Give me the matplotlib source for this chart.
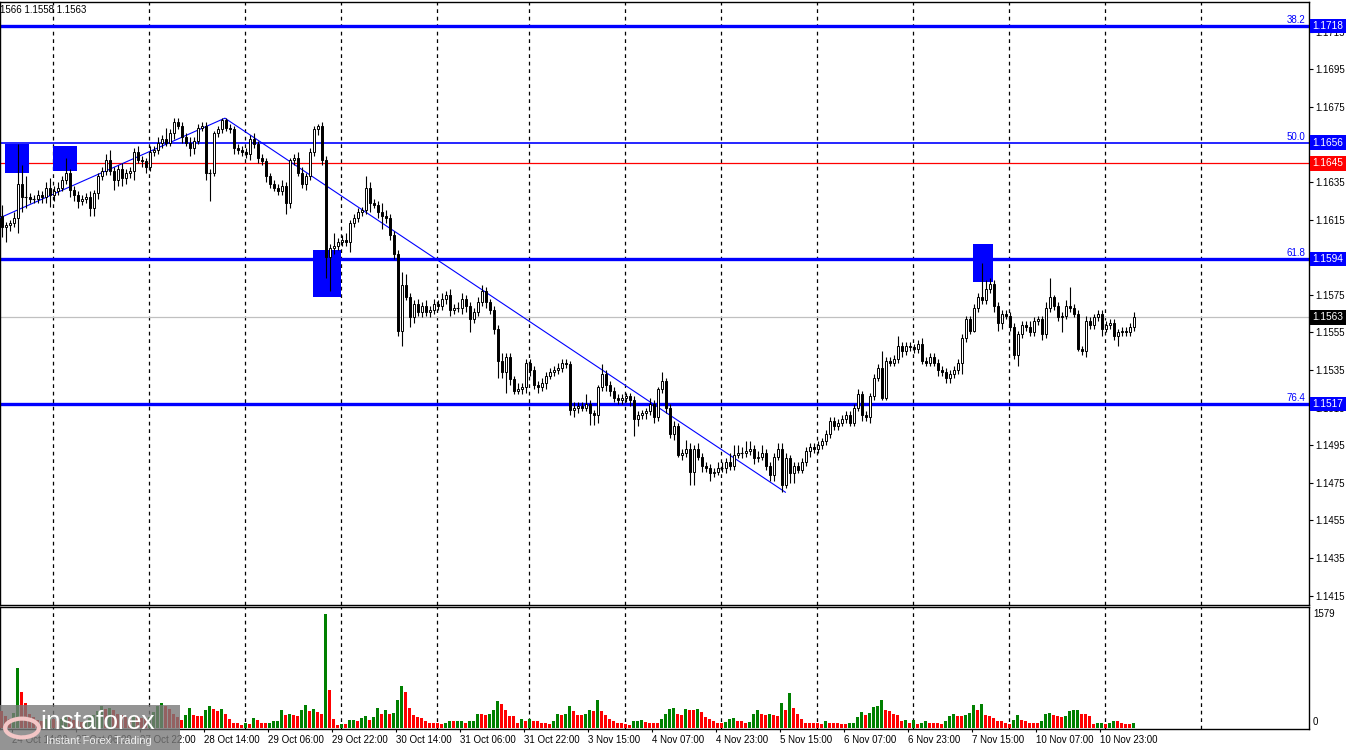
import matplotlib
matplotlib.use("Agg")
import matplotlib.pyplot as plt
from matplotlib.patches import Rectangle, Circle
from matplotlib.transforms import blended_transform_factory
import numpy as np

plt.rcParams["font.family"] = ["Liberation Sans", "DejaVu Sans"]

# ---- EURUSD H1 candles ----
first_open = 1.1617
closes = [
    1.1611, 1.1612, 1.1613, 1.1616, 1.1634, 1.1627, 1.1627, 1.1626, 1.1626, 1.1628, 1.1627, 1.1632,
    1.1628, 1.1630, 1.1632, 1.1636, 1.1640, 1.1631, 1.1628, 1.1625, 1.1626, 1.1627, 1.1621, 1.1629,
    1.1638, 1.1641, 1.1647, 1.1641, 1.1636, 1.1642, 1.1637, 1.1640, 1.1641, 1.1651, 1.1647, 1.1646,
    1.1643, 1.1651, 1.1652, 1.1656, 1.1658, 1.1656, 1.1661, 1.1667, 1.1665, 1.1659, 1.1656, 1.1653,
    1.1657, 1.1664, 1.1665, 1.1640, 1.1640, 1.1661, 1.1663, 1.1668, 1.1664, 1.1663, 1.1653, 1.1652,
    1.1651, 1.1650, 1.1658, 1.1655, 1.1648, 1.1646, 1.1638, 1.1634, 1.1632, 1.1630, 1.1633, 1.1624,
    1.1647, 1.1648, 1.1640, 1.1634, 1.1638, 1.1651, 1.1663, 1.1665, 1.1647, 1.1595, 1.1600, 1.1601,
    1.1603, 1.1604, 1.1603, 1.1613, 1.1616, 1.1619, 1.1620, 1.1632, 1.1624, 1.1623, 1.1619, 1.1617,
    1.1616, 1.1607, 1.1597, 1.1556, 1.1580, 1.1574, 1.1563, 1.1570, 1.1566, 1.1569, 1.1566, 1.1567,
    1.1570, 1.1569, 1.1573, 1.1575, 1.1567, 1.1568, 1.1568, 1.1573, 1.1569, 1.1562, 1.1566, 1.1571,
    1.1577, 1.1571, 1.1567, 1.1557, 1.1540, 1.1534, 1.1542, 1.1530, 1.1524, 1.1525, 1.1526, 1.1539,
    1.1535, 1.1527, 1.1526, 1.1528, 1.1532, 1.1534, 1.1535, 1.1536, 1.1539, 1.1538, 1.1514, 1.1515,
    1.1516, 1.1515, 1.1517, 1.1512, 1.1511, 1.1526, 1.1533, 1.1527, 1.1524, 1.1520, 1.1519, 1.1520,
    1.1521, 1.1519, 1.1509, 1.1511, 1.1512, 1.1513, 1.1517, 1.1510, 1.1525, 1.1529, 1.1515, 1.1501,
    1.1505, 1.1490, 1.1491, 1.1493, 1.1481, 1.1493, 1.1489, 1.1484, 1.1483, 1.1480, 1.1481, 1.1483,
    1.1483, 1.1486, 1.1484, 1.1490, 1.1491, 1.1491, 1.1492, 1.1493, 1.1488, 1.1489, 1.1491, 1.1484,
    1.1479, 1.1489, 1.1493, 1.1474, 1.1488, 1.1480, 1.1484, 1.1482, 1.1486, 1.1492, 1.1494, 1.1493,
    1.1495, 1.1497, 1.1501, 1.1508, 1.1505, 1.1507, 1.1509, 1.1511, 1.1507, 1.1515, 1.1522, 1.1511,
    1.1510, 1.1521, 1.1531, 1.1536, 1.1520, 1.1540, 1.1539, 1.1541, 1.1548, 1.1545, 1.1548, 1.1547,
    1.1546, 1.1549, 1.1540, 1.1539, 1.1542, 1.1539, 1.1535, 1.1534, 1.1531, 1.1533, 1.1535, 1.1539,
    1.1552, 1.1562, 1.1556, 1.1568, 1.1574, 1.1572, 1.1578, 1.1581, 1.1569, 1.1560, 1.1565, 1.1564,
    1.1558, 1.1543, 1.1554, 1.1559, 1.1558, 1.1555, 1.1561, 1.1562, 1.1554, 1.1568, 1.1574, 1.1569,
    1.1563, 1.1564, 1.1569, 1.1568, 1.1565, 1.1546, 1.1545, 1.1561, 1.1559, 1.1563, 1.1565, 1.1557,
    1.1559, 1.1560, 1.1553, 1.1555, 1.1556, 1.1555, 1.1558, 1.1563,
]
# wick lengths beyond the body, in pips
wick_up = [
    6, 2, 2, 3, 21, 10, 11, 2, 2, 3, 2, 3,
    5, 3, 3, 2, 8, 2, 2, 2, 2, 2, 3, 2,
    2, 2, 3, 5, 2, 2, 3, 2, 2, 2, 3, 2,
    2, 3, 2, 3, 2, 6, 2, 2, 2, 2, 2, 3,
    2, 2, 2, 2, 2, 1, 2, 1, 1, 2, 2, 2,
    2, 2, 2, 3, 2, 2, 2, 2, 2, 2, 3, 2,
    1, 2, 3, 3, 2, 2, 2, 1, 2, 2, 2, 7,
    2, 3, 4, 2, 2, 2, 2, 6, 3, 2, 2, 5,
    3, 2, 2, 2, 7, 6, 2, 2, 3, 2, 3, 2,
    3, 2, 3, 2, 3, 2, 3, 3, 2, 2, 2, 3,
    3, 2, 2, 2, 2, 4, 2, 2, 2, 3, 2, 2,
    2, 2, 2, 3, 2, 2, 2, 3, 2, 2, 2, 3,
    2, 2, 5, 2, 2, 1, 5, 2, 2, 2, 2, 2,
    2, 2, 2, 2, 2, 2, 3, 2, 1, 5, 2, 2,
    3, 2, 2, 5, 3, 2, 3, 2, 2, 2, 2, 3,
    3, 2, 5, 5, 4, 3, 5, 4, 2, 3, 4, 2,
    2, 2, 3, 3, 3, 2, 2, 2, 2, 2, 2, 2,
    2, 2, 2, 2, 2, 2, 2, 2, 2, 2, 3, 2,
    2, 2, 2, 2, 9, 2, 2, 2, 5, 2, 2, 2,
    2, 2, 3, 2, 2, 2, 2, 2, 2, 2, 2, 2,
    2, 2, 2, 2, 2, 18, 5, 3, 2, 2, 2, 2,
    2, 2, 2, 2, 2, 3, 2, 2, 2, 3, 10, 1,
    2, 2, 3, 10, 2, 2, 2, 3, 2, 2, 2, 2,
    2, 2, 2, 2, 2, 2, 2, 3,
]
wick_dn = [
    5, 8, 3, 2, 8, 8, 6, 2, 2, 2, 3, 3,
    6, 3, 2, 2, 2, 4, 3, 4, 2, 2, 4, 4,
    3, 2, 2, 2, 5, 3, 4, 3, 3, 5, 2, 3,
    3, 2, 2, 2, 3, 2, 2, 3, 2, 3, 2, 4,
    3, 2, 2, 4, 15, 2, 2, 2, 2, 2, 3, 2,
    2, 2, 3, 2, 3, 2, 3, 2, 2, 2, 2, 6,
    3, 3, 2, 2, 3, 2, 2, 3, 3, 11, 18, 3,
    2, 2, 2, 5, 2, 2, 2, 2, 5, 2, 3, 7,
    3, 3, 3, 3, 8, 2, 5, 3, 2, 3, 2, 3,
    2, 2, 2, 3, 3, 2, 2, 3, 3, 7, 2, 2,
    2, 3, 2, 3, 9, 3, 11, 3, 2, 2, 3, 3,
    3, 2, 3, 2, 3, 2, 2, 2, 2, 2, 3, 4,
    3, 2, 2, 6, 5, 4, 2, 3, 3, 2, 2, 2,
    2, 3, 9, 4, 2, 3, 2, 3, 2, 2, 3, 2,
    3, 1, 3, 2, 7, 7, 2, 3, 2, 4, 2, 2,
    2, 3, 2, 2, 2, 3, 2, 2, 3, 2, 2, 2,
    3, 3, 2, 4, 2, 5, 5, 2, 2, 2, 3, 2,
    2, 2, 2, 2, 2, 2, 2, 2, 2, 2, 2, 3,
    2, 3, 2, 2, 1, 1, 2, 2, 2, 3, 2, 2,
    2, 2, 2, 2, 2, 2, 3, 2, 3, 3, 2, 2,
    6, 2, 2, 1, 2, 2, 2, 2, 3, 4, 3, 2,
    2, 2, 6, 2, 2, 2, 2, 2, 3, 2, 2, 2,
    2, 8, 2, 2, 2, 1, 2, 3, 2, 2, 2, 4,
    2, 2, 2, 5, 2, 2, 2, 2,
]
volumes = [
    230, 170, 120, 210, 830, 500, 346,
    200, 150, 110, 90, 130, 160, 120, 100, 130, 180, 150, 110, 90,
    80, 100, 140, 180, 230, 300, 260, 280, 250, 200, 180, 150, 120,
    180, 160, 140, 120, 150, 220, 300, 350, 310, 260, 200, 150,
    106, 176, 282, 176, 170, 165, 254, 310, 268, 231, 268, 189, 129, 74, 70, 37, 74,
    60, 143, 115, 74, 70, 74, 92, 95, 254, 176, 199, 176, 172, 254, 323, 231, 268,
    222, 189, 1579, 522, 129, 46, 60, 58, 106, 108, 92, 139, 162, 106, 152, 282, 199,
    245, 189, 212, 383, 577, 494, 277, 185, 152, 143, 92, 69, 67, 65, 51, 74, 92,
    92, 95, 97, 74, 92, 95, 199, 189, 185, 189, 254, 369, 328, 254, 162, 160, 74,
    120, 92, 120, 92, 90, 74, 72, 51,
    92, 199, 180, 199, 300, 240, 180, 176, 199, 254, 240, 383, 231, 176, 120, 92,
    74, 70, 51, 48, 92, 95, 106, 83, 74, 70, 69, 120, 199, 268, 277, 189, 176, 258,
    255, 250, 258, 222, 152, 120, 92, 74, 70,
    83, 120, 143, 92, 90, 69, 80, 199, 245, 199, 176, 199, 185, 162, 346, 245, 485,
    277, 199, 129, 74, 70, 69, 65, 51, 92, 74, 72, 70, 60, 58, 74, 76, 152, 217,
    176, 212, 291, 300, 383, 245, 231, 199, 180,
    92, 106, 74, 106, 60, 74, 92, 74, 72, 70, 60, 92, 162, 189, 162, 160, 176, 212,
    314, 245, 328, 185, 162, 143, 92, 90, 74, 60, 106, 176, 106, 92, 74, 72, 70, 92,
    199, 212, 185, 162, 152, 162, 231, 245, 247, 199, 197, 162, 60, 74, 76, 60, 74,
    92, 90, 74, 60, 58, 74,
]

time_labels = ["24 Oct 14:00", "27 Oct 06:00", "27 Oct 22:00", "28 Oct 14:00",
               "29 Oct 06:00", "29 Oct 22:00", "30 Oct 14:00", "31 Oct 06:00",
               "31 Oct 22:00", "3 Nov 15:00", "4 Nov 07:00", "4 Nov 23:00",
               "5 Nov 15:00", "6 Nov 07:00", "6 Nov 23:00", "7 Nov 15:00",
               "10 Nov 07:00", "10 Nov 23:00"]

price_ticks = [1.1415, 1.1435, 1.1455, 1.1475, 1.1495, 1.1515, 1.1535, 1.1555,
               1.1575, 1.1615, 1.1635, 1.1675, 1.1695, 1.1715]
fib_levels = [1.1718, 1.1656, 1.1594, 1.1517]
fib_names = ["38.2", "50.0", "61.8", "76.4"]
signal_level = 1.1645
last_price = 1.1563
last_bar_text = "1566 1.1558 1.1563"
vol_max_label = 1579

# trend line anchors (bar, price)
trend_bars = [0.575, 56.8, 196.9]
trend_prices = [1.1616, 1.1669, 1.1470]
# signal boxes (bar start, bar end, low, high)
signal_boxes = [(1.8, 7.8, 1.1640, 1.1655), (13.8, 19.8, 1.1641, 1.1654),
                (78.8, 85.8, 1.1574, 1.1599), (243.8, 248.8, 1.1582, 1.1602)]
grid_bars = [13.8, 37.8, 61.8, 85.8, 109.8, 132.8, 156.8, 180.8, 204.8,
             228.8, 252.8, 276.8, 300.8]

BLUE = "#0000FF"

n = len(closes)
bars = np.arange(1, n + 1)
opens = np.array([first_open] + closes[:-1])
closes_a = np.array(closes)
highs = np.maximum(opens, closes_a) + np.array(wick_up) / 10000
lows = np.minimum(opens, closes_a) - np.array(wick_dn) / 10000

W, H = 1350, 750
fig = plt.figure(figsize=(13.5, 7.5), dpi=100)
ax = fig.add_axes([0, 1 - 605 / H, 1309 / W, 603 / H])
axv = fig.add_axes([0, 1 - 729 / H, 1309 / W, 122 / H])

xlim = (0.575, 327.8)
for a in (ax, axv):
    a.set_xlim(*xlim)
    for s in a.spines.values():
        s.set_color("black")
        s.set_linewidth(1.0)
    for gx in grid_bars:
        a.axvline(gx, color="black", lw=0.9, ls=(0, (3, 3)), zorder=1)

ax.set_ylim(1.14100, 1.17308)

# levels
for lvl, name in zip(fib_levels, fib_names):
    lw = 1.2 if name == "50.0" else 2.4
    ax.axhline(lvl, color=BLUE, lw=lw, zorder=2)
    ax.text(326.8, lvl + 0.00005, name, color=BLUE, fontsize=7,
            ha="right", va="bottom", zorder=6)
ax.axhline(signal_level, color="red", lw=0.9, zorder=2)
ax.axhline(last_price, color="#C0C0C0", lw=0.9, zorder=1.5)

# trend lines
ax.plot(trend_bars, trend_prices, color=BLUE, lw=0.8, zorder=3)

# boxes
for b0, b1, lo, hi in signal_boxes:
    ax.add_patch(Rectangle((b0, lo), b1 - b0, hi - lo, facecolor=BLUE,
                           edgecolor="none", zorder=3.5))

# candles
ax.vlines(bars, lows, highs, color="black", lw=0.8, zorder=4)
bw = 0.55
for x, o, c in zip(bars, opens, closes_a):
    if abs(c - o) < 1e-9:
        ax.hlines(c, x - bw / 2 - 0.15, x + bw / 2 + 0.15, color="black", lw=0.8, zorder=5)
        continue
    face = "white" if c > o else "black"
    ax.add_patch(Rectangle((x - bw / 2, min(o, c)), bw, abs(c - o),
                           facecolor=face, edgecolor="black", lw=0.7, zorder=5))

# price axis
ax.yaxis.tick_right()
ax.set_yticks(price_ticks)
ax.yaxis.set_major_formatter(plt.FuncFormatter(lambda v, p: f"{v:.4f}"))
ax.tick_params(axis="y", length=3, width=0.8, pad=1.5, labelsize=7)
ax.set_xticks([])

tr = blended_transform_factory(fig.transFigure, ax.transData)
box_style = "square,pad=0.22"
for lvl in fib_levels:
    ax.text(1312.5 / W, lvl, f"{lvl:.4f}", transform=tr, color="white", fontsize=7.3,
            ha="left", va="center", zorder=10, clip_on=False,
            bbox=dict(boxstyle=box_style, fc=BLUE, ec="none"))
ax.text(1312.5 / W, signal_level, f"{signal_level:.4f}", transform=tr, color="white",
        fontsize=7.3, ha="left", va="center", zorder=10, clip_on=False,
        bbox=dict(boxstyle=box_style, fc="red", ec="none"))
ax.text(1312.5 / W, last_price, f"{last_price:.4f}", transform=tr, color="white",
        fontsize=7.3, ha="left", va="center", zorder=10, clip_on=False,
        bbox=dict(boxstyle=box_style, fc="black", ec="none"))

# volumes
vols = np.array(volumes)
prev = np.concatenate([[vols[0] + 1], vols[:-1]])
vcolors = np.where(vols > prev, "#008000", "#FF0000")
axv.bar(bars, vols, width=0.75, color=vcolors, zorder=3)
axv.set_ylim(-14, 1676)
axv.set_yticks([])
axv.set_xticks(3.575 + 16 * np.arange(len(time_labels)))
axv.set_xticklabels(time_labels, ha="left")
axv.tick_params(axis="x", length=2.5, width=0.8, pad=1.5, labelsize=7)

fig.text(1313 / W, 1 - 614 / H, str(vol_max_label), fontsize=7, va="center", ha="left")
fig.text(1313 / W, 1 - 722 / H, "0", fontsize=7, va="center", ha="left")
fig.text(0.0, 1 - 10 / H, last_bar_text, fontsize=7, va="center", ha="left")

# watermark
fig.patches.append(Rectangle((0, 0), 180 / W, 45 / H, transform=fig.transFigure,
                             facecolor="#7a7a7a", alpha=0.8, edgecolor="none", zorder=20))
fig.patches.append(Circle((22 / W, 22 / H), 0.0125, transform=fig.transFigure,
                          facecolor="none", edgecolor="#f3c6c6", lw=3, zorder=21))
fig.text(40 / W, 1 - 722 / H, "instaforex", color="white", fontsize=19,
         va="center", ha="left", zorder=22)
fig.text(46 / W, 1 - 741 / H, "Instant Forex Trading", color="#eeeeee", fontsize=8,
         va="center", ha="left", zorder=22)

fig.savefig("out.png", dpi=100, facecolor="white")
